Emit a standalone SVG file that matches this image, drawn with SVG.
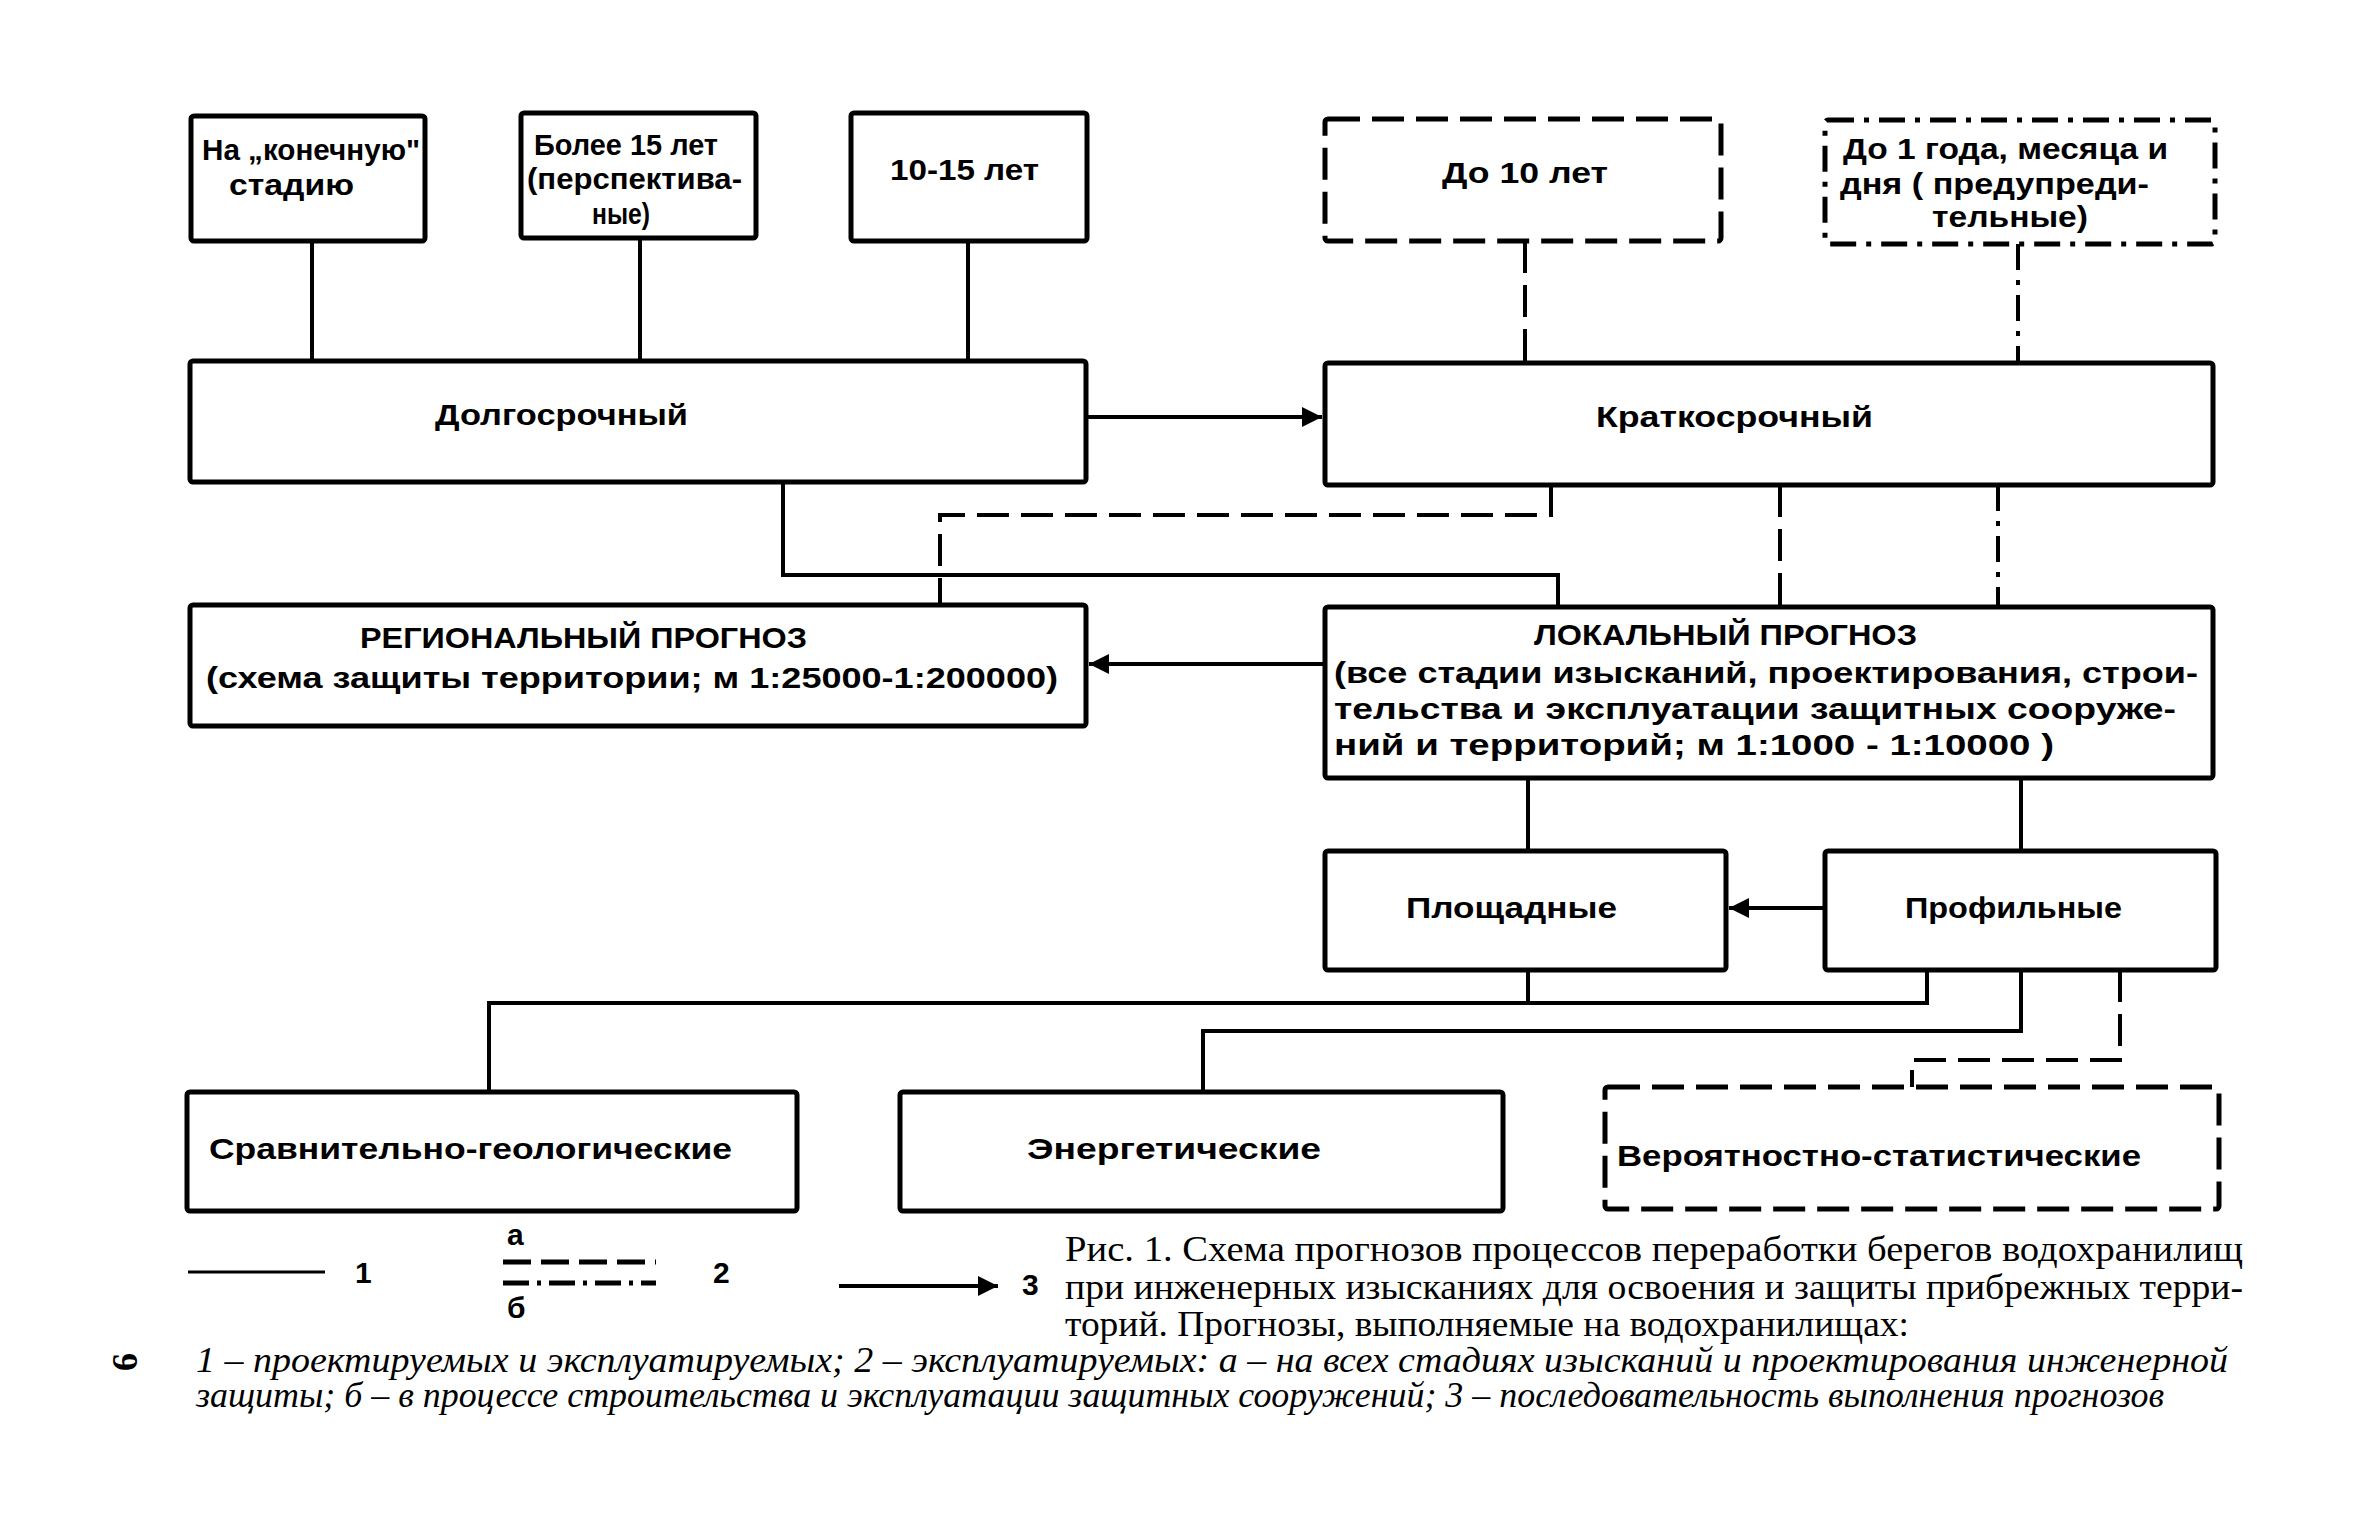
<svg xmlns="http://www.w3.org/2000/svg" width="2361" height="1535" viewBox="0 0 2361 1535">
<style>
.bx{fill:#fff;stroke:#000;stroke-width:5}
.dsh{stroke-dasharray:32 12}
.dd{stroke-dasharray:26 10 5 10}
.t{font-family:"Liberation Sans","DejaVu Sans",sans-serif;font-weight:bold;font-size:30px;fill:#000}
.c{fill:none;stroke:#000;stroke-width:4}
.cap{font-family:"Liberation Serif","DejaVu Serif",serif;font-size:36px;fill:#000}
.it{font-style:italic;font-size:35px}
</style>
<defs>
<marker id="ah" viewBox="0 0 10 10" refX="10" refY="5" markerWidth="7" markerHeight="5" markerUnits="strokeWidth" orient="auto">
<path d="M0,0 L10,5 L0,10 z" fill="#000"/>
</marker>
</defs>
<rect width="2361" height="1535" fill="#fff"/>

<g id="connectors">
<path class="c" d="M312 241V361M640 238V361M968 241V361"/>
<path class="c dsh" d="M1525 241V363"/>
<path class="c dd" d="M2018 244V363"/>
<path class="c" d="M1086 417H1322" marker-end="url(#ah)"/>
<path class="c" d="M783 482V575H1558V607"/>
<path class="c dsh" d="M1551 485V515H940V605"/>
<path class="c dsh" d="M1780 485V607"/>
<path class="c dd" d="M1998 485V607"/>
<path class="c" d="M1325 664H1089" marker-end="url(#ah)"/>
<path class="c" d="M1528 778V851M2021 778V851"/>
<path class="c" d="M1825 908H1729" marker-end="url(#ah)"/>
<path class="c" d="M1528 970V1003M1927 970V1003H489V1092"/>
<path class="c" d="M2021 970V1031H1203V1092"/>
<path class="c dsh" d="M2120 970V1060H1912V1087"/>
</g>

<g id="n-final">
<rect class="bx" x="191" y="116" width="234" height="125" rx="3"/>
<text class="t" x="202" y="160" textLength="218" lengthAdjust="spacingAndGlyphs">На „конечную"</text>
<text class="t" x="229" y="195" textLength="125" lengthAdjust="spacingAndGlyphs">стадию</text>
</g>
<g id="n-15plus">
<rect class="bx" x="521" y="113" width="235" height="125" rx="3"/>
<text class="t" x="534" y="155" textLength="184" lengthAdjust="spacingAndGlyphs">Более 15 лет</text>
<text class="t" x="527" y="189" textLength="215" lengthAdjust="spacingAndGlyphs">(перспектива-</text>
<text class="t" x="592" y="224" textLength="58" lengthAdjust="spacingAndGlyphs">ные)</text>
</g>
<g id="n-10-15">
<rect class="bx" x="851" y="113" width="236" height="128" rx="3"/>
<text class="t" x="890" y="180" textLength="149" lengthAdjust="spacingAndGlyphs">10-15 лет</text>
</g>
<g id="n-to10">
<rect class="bx dsh" x="1325" y="119" width="396" height="122" rx="3"/>
<text class="t" x="1442" y="183" textLength="166" lengthAdjust="spacingAndGlyphs">До  10 лет</text>
</g>
<g id="n-to1">
<rect class="bx dd" x="1825" y="120" width="390" height="124" rx="3"/>
<text class="t" x="1843" y="159" textLength="325" lengthAdjust="spacingAndGlyphs">До 1 года, месяца и</text>
<text class="t" x="1840" y="194" textLength="309" lengthAdjust="spacingAndGlyphs">дня ( предупреди-</text>
<text class="t" x="1932" y="227" textLength="156" lengthAdjust="spacingAndGlyphs">тельные)</text>
</g>
<g id="n-long">
<rect class="bx" x="190" y="361" width="896" height="121" rx="3"/>
<text class="t" x="435" y="425" textLength="253" lengthAdjust="spacingAndGlyphs">Долгосрочный</text>
</g>
<g id="n-short">
<rect class="bx" x="1325" y="363" width="888" height="122" rx="3"/>
<text class="t" x="1596" y="427" textLength="277" lengthAdjust="spacingAndGlyphs">Краткосрочный</text>
</g>
<g id="n-regional">
<rect class="bx" x="190" y="605" width="896" height="121" rx="3"/>
<text class="t" x="360" y="648" textLength="447" lengthAdjust="spacingAndGlyphs">РЕГИОНАЛЬНЫЙ  ПРОГНОЗ</text>
<text class="t" x="206" y="688" textLength="852" lengthAdjust="spacingAndGlyphs">(схема защиты территории;  м  1:25000-1:200000)</text>
</g>
<g id="n-local">
<rect class="bx" x="1325" y="607" width="888" height="171" rx="3"/>
<text class="t" x="1534" y="645" textLength="383" lengthAdjust="spacingAndGlyphs">ЛОКАЛЬНЫЙ  ПРОГНОЗ</text>
<text class="t" x="1334" y="683" textLength="864" lengthAdjust="spacingAndGlyphs">(все стадии изысканий, проектирования, строи-</text>
<text class="t" x="1334" y="719" textLength="842" lengthAdjust="spacingAndGlyphs">тельства и эксплуатации защитных сооруже-</text>
<text class="t" x="1334" y="755" textLength="720" lengthAdjust="spacingAndGlyphs">ний и территорий;  м   1:1000 - 1:10000 )</text>
</g>
<g id="n-area">
<rect class="bx" x="1325" y="851" width="401" height="119" rx="3"/>
<text class="t" x="1406" y="918" textLength="211" lengthAdjust="spacingAndGlyphs">Площадные</text>
</g>
<g id="n-profile">
<rect class="bx" x="1825" y="851" width="391" height="119" rx="3"/>
<text class="t" x="1905" y="918" textLength="217" lengthAdjust="spacingAndGlyphs">Профильные</text>
</g>
<g id="n-geo">
<rect class="bx" x="187" y="1092" width="610" height="119" rx="3"/>
<text class="t" x="209" y="1159" textLength="523" lengthAdjust="spacingAndGlyphs">Сравнительно-геологические</text>
</g>
<g id="n-energy">
<rect class="bx" x="900" y="1092" width="603" height="119" rx="3"/>
<text class="t" x="1027" y="1159" textLength="294" lengthAdjust="spacingAndGlyphs">Энергетические</text>
</g>
<g id="n-prob">
<rect class="bx dsh" x="1605" y="1087" width="614" height="122" rx="3"/>
<text class="t" x="1617" y="1166" textLength="524" lengthAdjust="spacingAndGlyphs">Вероятностно-статистические</text>
</g>

<g id="legend">
<path d="M188 1272H325" stroke="#000" stroke-width="3"/>
<text class="t" x="355" y="1283" font-size="28">1</text>
<text class="t" x="507" y="1245" font-size="26">а</text>
<path d="M503 1262H656" stroke="#000" stroke-width="5" stroke-dasharray="28 10"/>
<path d="M503 1283H656" stroke="#000" stroke-width="5" stroke-dasharray="26 8 4 8"/>
<text class="t" x="507" y="1318" font-size="26">б</text>
<text class="t" x="713" y="1283" font-size="28">2</text>
<path d="M839 1286H998" stroke="#000" stroke-width="4" marker-end="url(#ah)"/>
<text class="t" x="1022" y="1295" font-size="28">3</text>
</g>

<g id="caption">
<text class="cap" x="1065" y="1261" textLength="1178" lengthAdjust="spacingAndGlyphs">Рис. 1. Схема прогнозов процессов переработки берегов водохранилищ</text>
<text class="cap" x="1065" y="1299" textLength="1178" lengthAdjust="spacingAndGlyphs">при инженерных изысканиях для освоения и защиты  прибрежных терри-</text>
<text class="cap" x="1065" y="1336" textLength="844" lengthAdjust="spacingAndGlyphs">торий.  Прогнозы, выполняемые на водохранилищах:</text>
<text class="cap it" x="196" y="1372" textLength="2032" lengthAdjust="spacingAndGlyphs">1 – проектируемых и эксплуатируемых;  2 – эксплуатируемых: а – на всех стадиях изысканий и проектирования инженерной</text>
<text class="cap it" x="196" y="1407" textLength="1968" lengthAdjust="spacingAndGlyphs">защиты;  б – в процессе строительства и эксплуатации защитных сооружений;  3 – последовательность выполнения прогнозов</text>
<text class="cap" transform="translate(137,1362) rotate(-90)" text-anchor="middle" font-size="28" font-weight="bold">6</text>
</g>
</svg>
